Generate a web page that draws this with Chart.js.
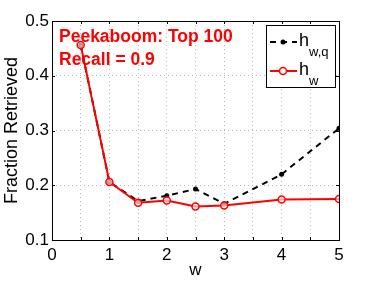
<!DOCTYPE html>
<html>
<head>
<meta charset="utf-8">
<script src="https://cdn.jsdelivr.net/npm/chart.js@4/dist/chart.umd.min.js"></script>
<style>
html,body{margin:0;padding:0;background:#fff;}
#wrap{width:374px;height:281px;}
</style>
</head>
<body>
<div id="wrap"><canvas id="c" width="374" height="281"></canvas></div>
<script>
const wValues = [0.5, 1, 1.5, 2, 2.5, 3, 4, 5];
const hwq = [0.456, 0.206, 0.171, 0.181, 0.193, 0.166, 0.220, 0.304];
const hw  = [0.456, 0.206, 0.168, 0.172, 0.161, 0.163, 0.174, 0.175];
const xTicks = [0, 1, 2, 3, 4, 5];
const yTicks = [0.1, 0.2, 0.3, 0.4, 0.5];
const annotationLines = ['Peekaboom: Top 100', 'Recall = 0.9'];
const legendEntries = [
  {base: 'h', sub: 'w,q'},
  {base: 'h', sub: 'w'}
];

const FONT = '"Liberation Sans", Arial, Helvetica, sans-serif';

const toXY = (ys) => wValues.map((x, i) => ({x: x, y: ys[i]}));

const framePlugin = {
  id: 'frame',
  afterDatasetsDraw(chart) {
    const ctx = chart.ctx;
    const a = chart.chartArea;
    const xs = chart.scales.x, ys = chart.scales.y;
    ctx.save();
    ctx.strokeStyle = '#000';
    ctx.lineWidth = 1;
    ctx.strokeRect(Math.round(a.left) + 0.5, Math.round(a.top) + 0.5, Math.round(a.right - a.left), Math.round(a.bottom - a.top));
    const tl = 3;
    for (let v = 0; v <= 5.0001; v += 0.5) {
      const px = Math.round(xs.getPixelForValue(v)) + 0.5;
      ctx.beginPath();
      ctx.moveTo(px, a.bottom); ctx.lineTo(px, a.bottom - tl);
      ctx.moveTo(px, a.top); ctx.lineTo(px, a.top + tl);
      ctx.stroke();
    }
    yTicks.forEach(v => {
      const py = Math.round(ys.getPixelForValue(v)) + 0.5;
      ctx.beginPath();
      ctx.moveTo(a.left, py); ctx.lineTo(a.left + tl, py);
      ctx.moveTo(a.right, py); ctx.lineTo(a.right - tl, py);
      ctx.stroke();
    });
    ctx.fillStyle = '#ff0000';
    ctx.font = 'bold 17.5px ' + FONT;
    ctx.textBaseline = 'alphabetic';
    ctx.textAlign = 'left';
    ctx.fillText(annotationLines[0], 59, 42);
    ctx.fillText(annotationLines[1], 59, 65);
    const bx = 266, by = 25, bw = 69, bh = 62;
    ctx.fillStyle = '#fff';
    ctx.fillRect(bx, by, bw, bh);
    ctx.strokeStyle = '#000';
    ctx.lineWidth = 1;
    ctx.strokeRect(bx + 0.5, by + 0.5, bw, bh);
    const rowsY = [42, 71];
    const dsets = chart.data.datasets;
    const e1 = dsets[1], e2 = dsets[0];
    ctx.save();
    ctx.strokeStyle = e1.borderColor;
    ctx.lineWidth = e1.borderWidth;
    ctx.setLineDash(e1.borderDash);
    ctx.beginPath(); ctx.moveTo(270, rowsY[0]); ctx.lineTo(297, rowsY[0]); ctx.stroke();
    ctx.setLineDash([]);
    ctx.fillStyle = '#000';
    ctx.beginPath(); ctx.arc(283, rowsY[0], e1.pointRadius, 0, Math.PI * 2); ctx.fill();
    ctx.restore();
    ctx.save();
    ctx.strokeStyle = e2.borderColor;
    ctx.lineWidth = e2.borderWidth;
    ctx.beginPath(); ctx.moveTo(270, rowsY[1]); ctx.lineTo(297, rowsY[1]); ctx.stroke();
    ctx.fillStyle = '#fff';
    ctx.lineWidth = 1.5;
    ctx.beginPath(); ctx.arc(283, rowsY[1], e2.pointRadius, 0, Math.PI * 2); ctx.fill(); ctx.stroke();
    ctx.restore();
    ctx.fillStyle = '#000';
    legendEntries.forEach((e, i) => {
      const baseY = rowsY[i] + 4;
      ctx.font = '18px ' + FONT;
      ctx.fillText(e.base, 299, baseY);
      const w = ctx.measureText(e.base).width;
      ctx.font = '13px ' + FONT;
      ctx.fillText(e.sub, 299 + w, baseY + 10);
    });
    ctx.restore();
  }
};

new Chart(document.getElementById('c'), {
  type: 'line',
  data: {
    datasets: [
      {
        label: 'h_w',
        data: toXY(hw),
        borderColor: '#ff0000',
        backgroundColor: '#ffffff',
        borderWidth: 2,
        pointRadius: 3.5,
        pointBorderWidth: 1.5,
        pointBackgroundColor: 'rgba(255,255,255,0.6)',
        pointBorderColor: '#ff0000',
        tension: 0,
        order: 0
      },
      {
        label: 'h_w,q',
        data: toXY(hwq),
        borderColor: '#000000',
        backgroundColor: '#000000',
        borderWidth: 2,
        borderDash: [6, 5],
        pointRadius: 2.5,
        pointBorderWidth: 0,
        pointBackgroundColor: '#000000',
        tension: 0,
        order: 1
      }
    ]
  },
  options: {
    responsive: false,
    devicePixelRatio: 1,
    animation: false,
    layout: {padding: {left: 0, right: 35, top: 21, bottom: 0}},
    plugins: {legend: {display: false}, tooltip: {enabled: false}},
    scales: {
      x: {
        type: 'linear',
        min: 0, max: 5,
        afterFit(s) { s.height = 41; },
        afterBuildTicks(s) {
          const t = [];
          for (let v = 0; v <= 5.0001; v += 0.5) t.push({value: Math.round(v * 10) / 10});
          s.ticks = t;
        },
        ticks: {
          autoSkip: false,
          maxRotation: 0,
          padding: 5,
          color: '#000',
          font: {family: FONT, size: 17},
          callback: (v) => xTicks.includes(v) ? String(v) : ''
        },
        grid: {
          drawTicks: false,
          color: '#b8b8b8',
          lineWidth: 1
        },
        border: {display: false, dash: [1, 3]},
        title: {display: true, text: 'w', color: '#000', font: {family: FONT, size: 17}, padding: {top: 0, bottom: 0}}
      },
      y: {
        type: 'linear',
        min: 0.1, max: 0.5,
        afterFit(s) { s.width = 52; },
        afterBuildTicks(s) { s.ticks = yTicks.map(v => ({value: v})); },
        ticks: {
          padding: 3,
          color: '#000',
          font: {family: FONT, size: 17},
          callback: (v) => v.toFixed(1)
        },
        grid: {
          drawTicks: false,
          color: '#b8b8b8',
          lineWidth: 1
        },
        border: {display: false, dash: [1, 3]},
        title: {display: true, text: 'Fraction Retrieved', color: '#000', font: {family: FONT, size: 18}, padding: {top: 1, bottom: 0}}
      }
    }
  },
  plugins: [framePlugin]
});
</script>
</body>
</html>
